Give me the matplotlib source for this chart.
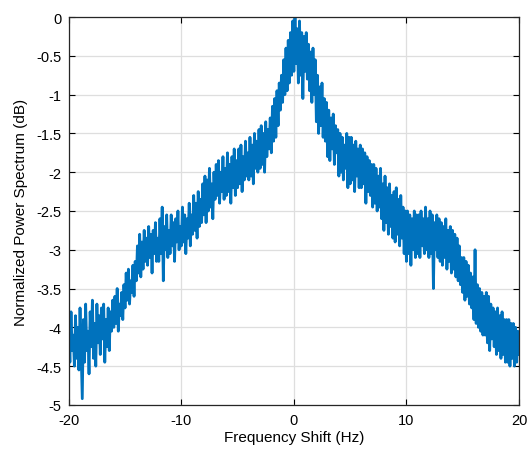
import numpy as np
import matplotlib
matplotlib.use("Agg")
from matplotlib import pyplot as plt

plt.rcParams['font.family'] = ['Liberation Sans', 'DejaVu Sans']
plt.rcParams['axes.unicode_minus'] = False

# normalized power (dB), 0.1 Hz steps from -20 to 20 Hz
power = [
    -4.05, -4.45, -3.80, -4.30, -4.10, -4.50, -3.85, -4.40, -4.00, -4.55,
    -3.75, -4.35, -4.92, -3.90, -4.45, -3.70, -4.30, -4.05, -4.60, -3.80,
    -4.25, -3.65, -4.40, -3.95, -4.50, -3.70, -4.20, -3.85, -4.35, -3.75,
    -4.15, -3.70, -4.45, -3.90, -4.25, -3.75, -4.30, -3.80, -4.05, -3.65,
    -4.00, -3.60, -3.95, -3.50, -4.05, -3.70, -3.85, -3.55, -3.90, -3.45,
    -3.75, -3.30, -3.65, -3.25, -3.70, -3.40, -3.55, -3.20, -3.60, -3.15,
    -3.40, -2.95, -3.30, -2.80, -3.35, -2.90, -3.25, -2.75, -3.15, -2.85,
    -3.20, -2.70, -3.10, -2.80, -3.30, -2.75, -3.05, -2.65, -3.15, -2.85,
    -3.15, -2.60, -3.05, -2.45, -3.40, -2.70, -3.00, -2.55, -3.10, -2.75,
    -3.05, -2.55, -2.95, -2.65, -3.15, -2.60, -2.90, -2.50, -3.00, -2.70,
    -2.95, -2.45, -2.90, -2.55, -3.05, -2.60, -2.85, -2.40, -2.95, -2.55,
    -2.80, -2.30, -2.75, -2.40, -2.85, -2.25, -2.70, -2.35, -2.65, -2.15,
    -2.55, -2.05, -2.65, -2.10, -2.50, -1.95, -2.45, -2.15, -2.60, -2.00,
    -2.35, -1.90, -2.30, -1.85, -2.40, -2.00, -2.25, -1.80, -2.35, -1.95,
    -2.30, -1.75, -2.25, -1.90, -2.40, -1.80, -2.20, -1.70, -2.30, -1.85,
    -2.20, -1.70, -2.15, -1.65, -2.25, -1.80, -2.10, -1.60, -2.05, -1.75,
    -2.10, -1.55, -2.05, -1.65, -2.15, -1.50, -1.95, -1.60, -2.00, -1.45,
    -1.95, -1.40, -1.90, -1.50, -2.00, -1.35, -1.80, -1.45, -1.70, -1.30,
    -1.75, -1.15, -1.60, -1.05, -1.55, -0.95, -1.40, -0.85, -1.20, -0.75,
    -1.10, -0.55, -1.00, -0.40, -0.95, -0.30, -0.85, -0.20, -0.75, -0.05,
    -0.70, 0.00, -0.60, -0.15, -0.85, -0.05, -0.75, -0.20, -1.05, -0.25,
    -0.70, -0.20, -0.80, -0.35, -0.95, -0.45, -1.10, -0.40, -1.00, -0.55,
    -1.35, -0.75, -1.50, -0.90, -1.40, -0.85, -1.55, -1.05, -1.60, -1.10,
    -1.80, -1.20, -1.85, -1.30, -1.70, -1.25, -1.90, -1.40, -1.75, -1.45,
    -2.05, -1.50, -2.00, -1.55, -2.10, -1.65, -1.95, -1.50, -2.20, -1.55,
    -2.15, -1.55, -2.10, -1.65, -2.25, -1.60, -2.05, -1.70, -2.20, -1.65,
    -2.20, -1.70, -2.15, -1.75, -2.40, -1.80, -2.25, -1.85, -2.30, -1.90,
    -2.45, -1.90, -2.40, -1.95, -2.50, -2.05, -2.45, -1.95, -2.60, -2.15,
    -2.75, -2.05, -2.65, -2.20, -2.80, -2.15, -2.70, -2.30, -2.85, -2.25,
    -2.90, -2.20, -2.80, -2.35, -2.95, -2.30, -2.85, -2.45, -3.05, -2.50,
    -3.15, -2.50, -3.05, -2.55, -3.20, -2.60, -3.00, -2.50, -3.10, -2.55,
    -3.05, -2.55, -3.10, -2.50, -2.95, -2.60, -3.05, -2.45, -3.00, -2.60,
    -3.10, -2.50, -3.05, -2.55, -3.50, -2.65, -3.00, -2.55, -3.10, -2.60,
    -3.15, -2.65, -3.20, -2.70, -3.10, -2.60, -3.25, -2.75, -3.15, -2.70,
    -3.30, -2.75, -3.25, -2.80, -3.35, -2.85, -3.40, -2.95, -3.45, -3.10,
    -3.55, -3.10, -3.65, -3.15, -3.60, -3.20, -3.70, -3.30, -3.75, -3.35,
    -3.90, -3.00, -3.95, -3.45, -4.00, -3.50, -4.05, -3.55, -4.10, -3.60,
    -4.10, -3.55, -4.20, -3.60, -4.30, -3.70, -4.15, -3.75, -4.25, -3.80,
    -4.35, -3.75, -4.30, -3.85, -4.40, -3.80, -4.35, -3.90, -4.45, -3.90,
    -4.45, -3.90, -4.50, -3.95, -4.40, -3.95, -4.50, -4.00, -4.45, -4.05,
    -4.35,
]
freq = np.linspace(-20, 20, len(power))

xticks = [-20, -10, 0, 10, 20]
yticks = [0, -0.5, -1, -1.5, -2, -2.5, -3, -3.5, -4, -4.5, -5]
ylabels = ['0', '-0.5', '-1', '-1.5', '-2', '-2.5', '-3', '-3.5', '-4', '-4.5', '-5']

fig = plt.figure(figsize=(5.29, 4.52), dpi=100)
ax = fig.add_axes([0.130, 0.102, 0.851, 0.858])
ax.plot(freq, power, color='#0072BD', lw=2)

ax.set_xlim(-20, 20)
ax.set_ylim(-5, 0)
ax.set_xticks(xticks)
ax.set_yticks(yticks)
ax.set_yticklabels(ylabels)
ax.grid(True, color='#dedede', lw=0.9)
ax.set_axisbelow(True)
ax.tick_params(direction='in', top=True, right=True, labelsize=10.5, length=4, width=0.8)
ax.tick_params(axis='x', pad=6)
ax.tick_params(axis='y', pad=5)
for s in ax.spines.values():
    s.set_linewidth(0.9)
    s.set_color('#262626')
ax.set_xlabel('Frequency Shift (Hz)', fontsize=11, labelpad=2)
ax.set_ylabel('Normalized Power Spectrum (dB)', fontsize=11, labelpad=6)

fig.savefig('out.png', dpi=100)
